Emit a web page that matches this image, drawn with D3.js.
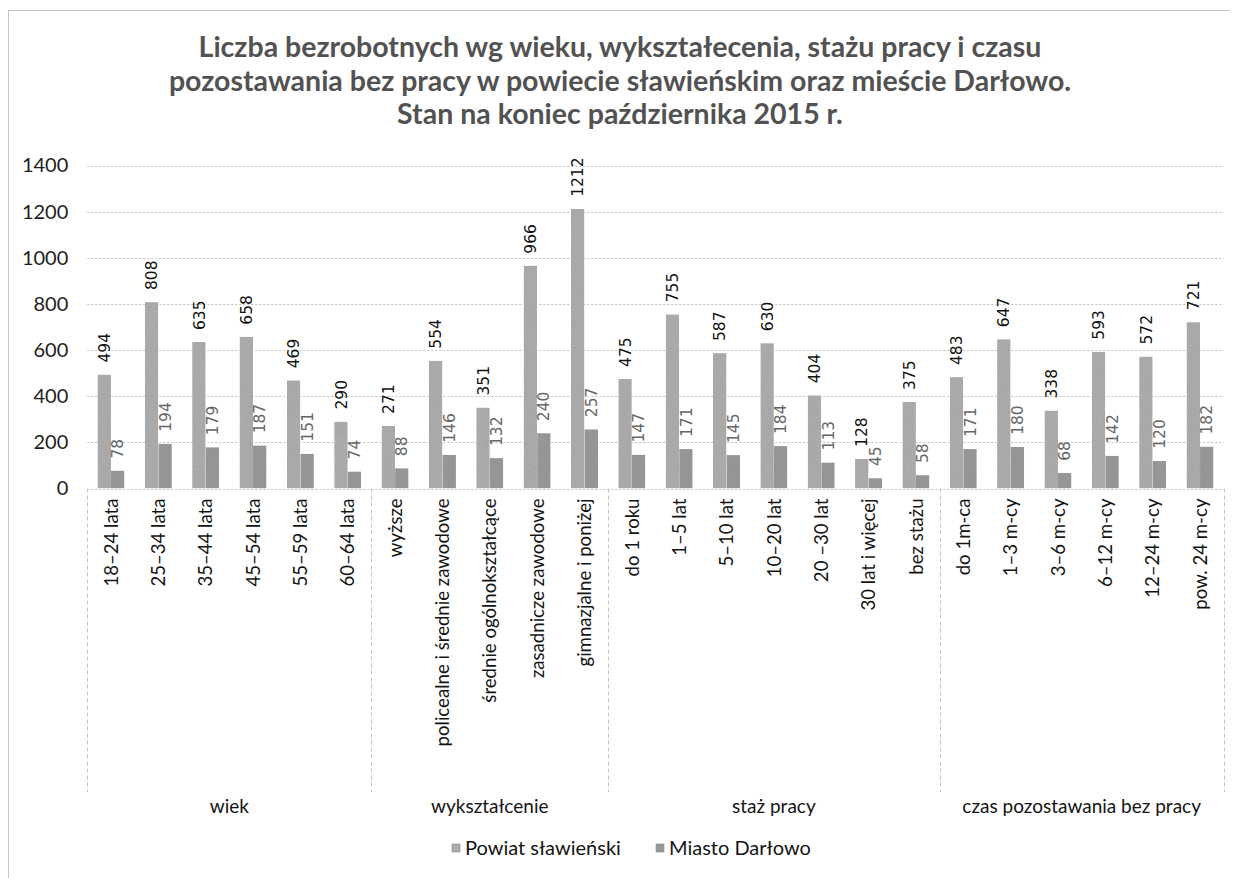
<!DOCTYPE html>
<html lang="pl">
<head>
<meta charset="utf-8">
<script src="https://cdn.jsdelivr.net/npm/d3@7"></script>
<style>
  html, body { margin: 0; padding: 0; background: #fff; }
  svg { display: block; }
</style>
</head>
<body>
<svg id="chart" width="1236" height="878"></svg>
<script>
// Kategorie osi X (poziom szczegółowy)
const categories = [
  "18–24 lata", "25–34 lata", "35–44 lata", "45–54 lata", "55–59 lata", "60–64 lata",
  "wyższe", "policealne i średnie zawodowe", "średnie ogólnokształcące",
  "zasadnicze zawodowe", "gimnazjalne i poniżej",
  "do 1 roku", "1–5 lat", "5–10 lat", "10–20 lat", "20 –30 lat", "30 lat i więcej", "bez stażu",
  "do 1m-ca", "1–3 m-cy", "3–6 m-cy", "6–12 m-cy", "12–24 m-cy", "pow. 24 m-cy"
];
// Grupy kategorii (drugi poziom osi) i liczba kategorii w każdej
const groupNames = ["wiek", "wykształcenie", "staż pracy", "czas pozostawania bez pracy"];
const groupSizes = [6, 5, 7, 6];

const seriesNames = ["Powiat sławieński", "Miasto Darłowo"];
const powiat  = [494, 808, 635, 658, 469, 290, 271, 554, 351, 966, 1212, 475, 755, 587, 630, 404, 128, 375, 483, 647, 338, 593, 572, 721];
const darlowo = [78, 194, 179, 187, 151, 74, 88, 146, 132, 240, 257, 147, 171, 145, 184, 113, 45, 58, 171, 180, 68, 142, 120, 182];

const yTicks = [0, 200, 400, 600, 800, 1000, 1200, 1400];

const titleLines = [
  "Liczba bezrobotnych wg wieku, wykształecenia, stażu pracy i czasu",
  "pozostawania bez pracy w powiecie sławieńskim oraz mieście Darłowo.",
  "Stan na koniec października 2015 r."
];

const svg = d3.select("#chart");
const W = 1236, H = 878;
const plot = { left: 87.3, right: 1223.7, top: 165.5, bottom: 488.5 };
const fillColors = ["#ababab", "#979797"];
const labelColors = ["#111111", "#666666"];
const FONT = "Lato, 'Open Sans', sans-serif";

// Ziarnista faktura słupków
const defs = svg.append("defs");
const grain = defs.append("filter").attr("id", "grain")
  .attr("x", 0).attr("y", 0).attr("width", 1).attr("height", 1);
grain.append("feTurbulence").attr("type", "fractalNoise").attr("baseFrequency", 0.95)
  .attr("numOctaves", 2).attr("seed", 7).attr("result", "noise");
grain.append("feColorMatrix").attr("in", "noise").attr("type", "saturate").attr("values", 0).attr("result", "gn");
const ct = grain.append("feComponentTransfer").attr("in", "gn").attr("result", "gc");
["feFuncR", "feFuncG", "feFuncB"].forEach(f => ct.append(f).attr("type", "linear").attr("slope", 0.55).attr("intercept", 0.72));
ct.append("feFuncA").attr("type", "linear").attr("slope", 0).attr("intercept", 1);
grain.append("feBlend").attr("in", "SourceGraphic").attr("in2", "gc").attr("mode", "multiply").attr("result", "bl");
grain.append("feComposite").attr("in", "bl").attr("in2", "SourceGraphic").attr("operator", "in");

// Ramka wykresu
svg.append("line").attr("x1", 8).attr("x2", W - 6).attr("y1", 10.5).attr("y2", 10.5)
  .attr("stroke", "#c4c4c4").attr("stroke-width", 1);
svg.append("line").attr("x1", 8.5).attr("x2", 8.5).attr("y1", 10).attr("y2", H)
  .attr("stroke", "#c4c4c4").attr("stroke-width", 1);

// Tytuł
svg.append("g").selectAll("text").data(titleLines).join("text")
  .attr("x", 620).attr("y", (d, i) => 57 + i * 33.5)
  .attr("text-anchor", "middle")
  .attr("font-family", FONT).attr("font-weight", "bold").attr("font-size", 28.5)
  .attr("fill", "#525252")
  .text(d => d);

// Skale
const x0 = d3.scaleBand().domain(categories).range([plot.left, plot.right]).paddingInner(0).paddingOuter(0);
const x1 = d3.scaleBand().domain(seriesNames).range([0, x0.bandwidth()]).paddingInner(0).paddingOuter(0.75);
const y = d3.scaleLinear().domain([0, 1400]).range([plot.bottom, plot.top]);

// Linie siatki
svg.append("g").selectAll("line").data(yTicks).join("line")
  .attr("x1", plot.left).attr("x2", plot.right)
  .attr("y1", d => Math.round(y(d)) + 0.5).attr("y2", d => Math.round(y(d)) + 0.5)
  .attr("stroke", "#c2c2c2").attr("stroke-width", 1).attr("stroke-dasharray", "2,2");

// Oś Y
const yAxis = svg.append("g").attr("transform", `translate(${plot.left},0)`)
  .call(d3.axisLeft(y).tickValues(yTicks).tickSize(0).tickPadding(19).tickFormat(d3.format("d")));
yAxis.select(".domain").remove();
yAxis.selectAll("text").attr("font-family", FONT).attr("font-size", 20).attr("fill", "#1e1e1e");

// Słupki
const series = [powiat, darlowo];
const barsG = svg.append("g").attr("filter", "url(#grain)");
series.forEach((vals, s) => {
  barsG.append("g").selectAll("rect").data(vals).join("rect")
    .attr("x", (d, i) => x0(categories[i]) + x1(seriesNames[s]))
    .attr("width", x1.bandwidth())
    .attr("y", d => y(d))
    .attr("height", d => y(0) - y(d))
    .attr("fill", fillColors[s]);
});

// Etykiety wartości (pionowe)
series.forEach((vals, s) => {
  svg.append("g").selectAll("text").data(vals).join("text")
    .attr("transform", (d, i) => {
      const cx = x0(categories[i]) + x1(seriesNames[s]) + x1.bandwidth() / 2;
      return `translate(${cx},${y(d) - 12}) rotate(-90)`;
    })
    .attr("dy", "0.36em")
    .attr("text-anchor", "start")
    .attr("font-family", "'DejaVu Sans', Verdana, sans-serif")
    .attr("font-size", 15.5)
    .attr("fill", labelColors[s])
    .text(d => d);
});

// Etykiety kategorii (pionowe)
svg.append("g").selectAll("text").data(categories).join("text")
  .attr("transform", d => `translate(${x0(d) + x0.bandwidth() / 2},${plot.bottom + 10}) rotate(-90)`)
  .attr("dy", "0.36em")
  .attr("text-anchor", "end")
  .attr("font-family", FONT).attr("font-size", 18.6)
  .attr("fill", "#141414")
  .text(d => d);

// Granice grup i nazwy grup
const bounds = [0];
groupSizes.forEach(n => bounds.push(bounds[bounds.length - 1] + n));
const boundX = bounds.map(b => b < categories.length ? x0(categories[b]) : plot.right);
svg.append("g").selectAll("line").data(boundX).join("line")
  .attr("x1", d => Math.round(d) + 0.5).attr("x2", d => Math.round(d) + 0.5)
  .attr("y1", plot.bottom).attr("y2", 792)
  .attr("stroke", "#c4c4c4").attr("stroke-width", 1).attr("stroke-dasharray", "4,3");

svg.append("g").selectAll("text").data(groupNames).join("text")
  .attr("x", (d, i) => (boundX[i] + boundX[i + 1]) / 2)
  .attr("y", 813)
  .attr("text-anchor", "middle")
  .attr("font-family", FONT).attr("font-size", 19)
  .attr("fill", "#141414")
  .text(d => d);

// Legenda
const legendX = [452, 656];
const lg = svg.append("g").selectAll("g").data(seriesNames).join("g")
  .attr("transform", (d, i) => `translate(${legendX[i]},844)`);
lg.append("rect").attr("width", 8).attr("height", 8).attr("fill", (d, i) => fillColors[i])
  .attr("stroke", "#8a8a8a").attr("stroke-width", 0.6);
lg.append("text").attr("x", 13).attr("y", 4).attr("dy", "0.35em")
  .attr("font-family", FONT).attr("font-size", 20).attr("fill", "#141414")
  .text(d => d);
</script>
</body>
</html>
